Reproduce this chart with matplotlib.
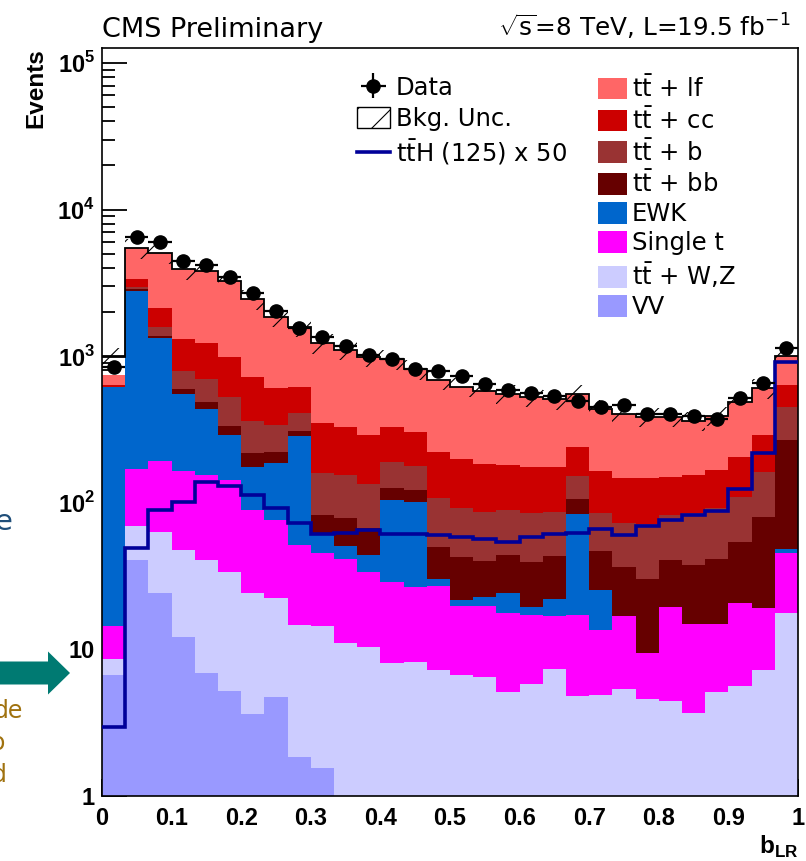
import numpy as np
import matplotlib
matplotlib.use("Agg")
import matplotlib.pyplot as plt
import matplotlib.patches as mpatches
from matplotlib.lines import Line2D

plt.rcParams["font.family"] = ["DejaVu Sans"]
plt.rcParams["mathtext.fontset"] = "custom"
plt.rcParams["mathtext.rm"] = "DejaVu Sans"
plt.rcParams["mathtext.it"] = "DejaVu Sans:italic"
plt.rcParams["mathtext.bf"] = "Liberation Sans:bold"
plt.rcParams["hatch.linewidth"] = 0.8

BOLD = {"family": ["Liberation Sans", "DejaVu Sans"], "weight": "bold"}

# 30 bins in b_LR from 0 to 1
edges = np.linspace(0.0, 1.0, 31)
centers = 0.5 * (edges[1:] + edges[:-1])

# stacked backgrounds, bottom -> top
vv = [6.7, 40.7, 24.4, 12.2, 6.9, 5.2, 3.6, 4.7, 1.85, 1.55,
      0, 0, 0, 0, 0, 0, 0, 0, 0, 0,
      0, 0, 0, 0, 0, 0, 0, 0, 0, 0]
ttwz = [1.9, 28.8, 39.1, 35.4, 33.8, 28.7, 20.8, 17.6, 12.9, 12.9,
        11.0, 10.4, 8.1, 8.2, 7.2, 6.7, 6.5, 5.1, 5.8, 7.3,
        4.8, 4.9, 5.4, 4.6, 4.45, 3.7, 5.1, 5.65, 7.2, 17.6]
single_t = [5.8, 99.7, 130.3, 117.2, 114.3, 109.2, 64.9, 54.0, 36.8, 30.8,
            30.2, 23.5, 20.9, 18.3, 19.9, 13.1, 13.3, 12.7, 11.4, 9.6,
            12.4, 8.7, 11.5, 4.8, 14.9, 11.2, 9.8, 15.0, 11.9, 27.6]
ewk = [599, 2630, 1130, 387, 279, 147, 86.7, 109.7, 235.5, 16.7,
       9.5, 10.2, 75.5, 75.3, 3.0, 1.9, 3.1, 6.3, 2.2, 5.1,
       66.7, 11.8, 0, 0, 0, 0, 0, 0, 0, 3.2]
ttbb = [0, 50, 50, 45, 56, 46, 42, 37, 23, 20.7,
        27.7, 22.9, 21.1, 20.5, 20.1, 21.2, 17.4, 20.0, 20.3, 21.4,
        21.8, 21.5, 19.4, 20.7, 21.4, 22.8, 26.5, 33.7, 61.3, 219.6]
ttb = [0, 120, 215, 199, 213, 194, 145, 117, 102, 77.4,
       76.4, 67.4, 65, 55.7, 57.2, 48.8, 46.6, 45.2, 45.1, 42.7,
       46.7, 38.7, 36.8, 41.6, 41.9, 47.1, 50.3, 55.8, 82.6, 180]
ttcc = [23, 386, 534, 508, 533, 453, 355, 264, 208, 189,
        176, 155.5, 140.4, 124.8, 115.6, 106.4, 96.3, 91.8, 91.4, 88.5,
        86.9, 80, 73.8, 75.2, 68.1, 70, 75.8, 94.1, 127, 188.5]
ttlf = [108, 2080, 2912, 2613, 2594, 2275, 1726, 1258, 969, 876,
        771, 703, 622, 511, 465, 421, 399, 371, 353, 333,
        313, 269, 257, 240, 236, 208, 223.5, 285.5, 314, 366]

# black outline of total background
bkg_total = [993, 5445, 5035, 3917, 3830, 3258, 2444, 1862, 1589, 1225,
             1102, 993, 953, 814, 688, 619, 582, 552, 530, 508,
             552, 435, 404, 387, 387, 363, 391, 490, 604, 1003]
bkg_rel_unc = 0.15

data = [848, 6471, 6040, 4480, 4190, 3453, 2712, 2044, 1549, 1358,
        1174, 1019, 953, 814, 796, 733, 646, 588, 558, 536,
        497, 453, 462, 402, 404, 393, 373, 516, 660, 1143]

tth_x50 = [2.97, 49.2, 89.3, 101.8, 139.3, 130.2, 113, 91.7, 72.5, 61,
           62.5, 65.2, 61.3, 61.3, 60.3, 58.2, 56.4, 54.3, 58.7, 61.2,
           62.5, 65.9, 60.3, 69.5, 76.3, 82.6, 88.3, 123.6, 217.8, 917]

tt = r"$\mathrm{t\bar{t}}$"
stack_labels = ["VV", tt + " + W,Z", "Single t", "EWK",
                tt + " + bb", tt + " + b", tt + " + cc", tt + " + lf"]
stack_values = [vv, ttwz, single_t, ewk, ttbb, ttb, ttcc, ttlf]
stack_colors = ["#9999ff", "#ccccff", "#ff00ff", "#0066cc",
                "#660000", "#993333", "#cc0000", "#ff6666"]
tth_color = "#000099"

fig = plt.figure(figsize=(8.06, 8.61), dpi=100)
ax = fig.add_axes([0.1266, 0.0755, 0.8635, 0.8688])
ax.set_yscale("log")
ax.set_axisbelow(True)

# draw cumulative sums from the top down so layers never leave seams
cum = np.cumsum(np.array(stack_values, dtype=float), axis=0)
for k in reversed(range(len(stack_values))):
    ax.stairs(cum[k], edges, baseline=0, fill=True,
              facecolor=stack_colors[k], edgecolor="none", lw=0, zorder=1)

tot = np.array(bkg_total, dtype=float)
ax.stairs(tot * (1 + bkg_rel_unc), edges, baseline=tot * (1 - bkg_rel_unc),
          fill=True, facecolor="none", edgecolor="black", hatch="/",
          lw=0, zorder=3)
ax.stairs(tot, edges, baseline=None, color="black", lw=1.3, zorder=3)

ax.stairs(tth_x50, edges, baseline=None, color=tth_color, lw=2.6, zorder=4)

data_h = ax.errorbar(centers, data, xerr=np.diff(edges) / 2,
                     yerr=np.sqrt(data), fmt="o", color="black",
                     ms=9.5, lw=1.6, capsize=0, zorder=5)

ax.set_xlim(0, 1)
ax.set_ylim(1, 1.265e5)

ax.set_xticks(np.round(np.arange(0, 1.01, 0.1), 1),
              ["0", "0.1", "0.2", "0.3", "0.4", "0.5",
               "0.6", "0.7", "0.8", "0.9", "1"],
              fontsize=17, **BOLD)
ax.set_yticks([1, 10, 100, 1e3, 1e4, 1e5],
              ["1", "10", r"10$^{\mathbf{2}}$", r"10$^{\mathbf{3}}$",
               r"10$^{\mathbf{4}}$", r"10$^{\mathbf{5}}$"],
              fontsize=17, **BOLD)
ax.tick_params(axis="y", which="major", direction="in", length=18,
               width=1.3, pad=5)
ax.tick_params(axis="y", which="minor", direction="in", length=9, width=1.3)
ax.tick_params(axis="x", which="both", direction="in", length=12,
               width=1.3, pad=8)
for sp in ax.spines.values():
    sp.set_linewidth(1.2)

ax.set_ylabel("Events", loc="top", fontsize=17.5, labelpad=7, **BOLD)
ax.set_xlabel(r"b$_{\mathbf{LR}}$", loc="right", fontsize=17.5, **BOLD)
ax.xaxis.set_label_coords(1.0, -0.05)

# legends
unc_h = mpatches.Patch(facecolor="white", edgecolor="black", hatch="/", lw=1.0)
tth_h = Line2D([], [], color=tth_color, lw=2.6)
leg1 = ax.legend([data_h, unc_h, tth_h],
                 ["Data", "Bkg. Unc.", r"$\mathrm{t\bar{t}H}$ (125) x 50"],
                 loc="upper left", bbox_to_anchor=(357 / 806, 1 - 76 / 861),
                 bbox_transform=fig.transFigure, frameon=False, fontsize=17.5,
                 handlelength=1.35, handleheight=0.95, handletextpad=0.25,
                 labelspacing=0.27, borderpad=0, borderaxespad=0)
ax.add_artist(leg1)

handles2 = [mpatches.Patch(facecolor=c, edgecolor="none")
            for c in stack_colors[::-1]]
ax.legend(handles2, stack_labels[::-1], loc="upper left",
          bbox_to_anchor=(598 / 806, 1 - 75 / 861),
          bbox_transform=fig.transFigure, frameon=False, fontsize=17.5,
          handlelength=1.2, handleheight=1.0, handletextpad=0.2,
          labelspacing=0.2, borderpad=0, borderaxespad=0)

fig.text(102 / 806, 1 - 37 / 861, "CMS Preliminary", fontsize=19.5,
         ha="left", va="baseline")
fig.text(790 / 806, 1 - 37 / 861,
         r"$\sqrt{\mathrm{s}}$=8 TeV, L=19.5 fb$^{-1}$",
         fontsize=17.8, ha="right", va="baseline")

# bits of the surrounding slide that are cut off at the left edge
fig.text(12 / 806, 1 - 530 / 861, "e", color="#1f4e79", fontsize=21,
         ha="right", va="baseline")
for txt, xr, yb in [("de", 23, 718), ("o", 5, 750), ("d", 7, 782)]:
    fig.text(xr / 806, 1 - yb / 861, txt, color="#a0720f", fontsize=17,
             ha="right", va="baseline")
fig.add_artist(mpatches.FancyArrow(-0.1, 1.88, 0.58, 0, width=0.23,
                                   head_width=0.43, head_length=0.22,
                                   color="#007a72", lw=0,
                                   transform=fig.dpi_scale_trans))

fig.savefig("out.png", dpi=100)
